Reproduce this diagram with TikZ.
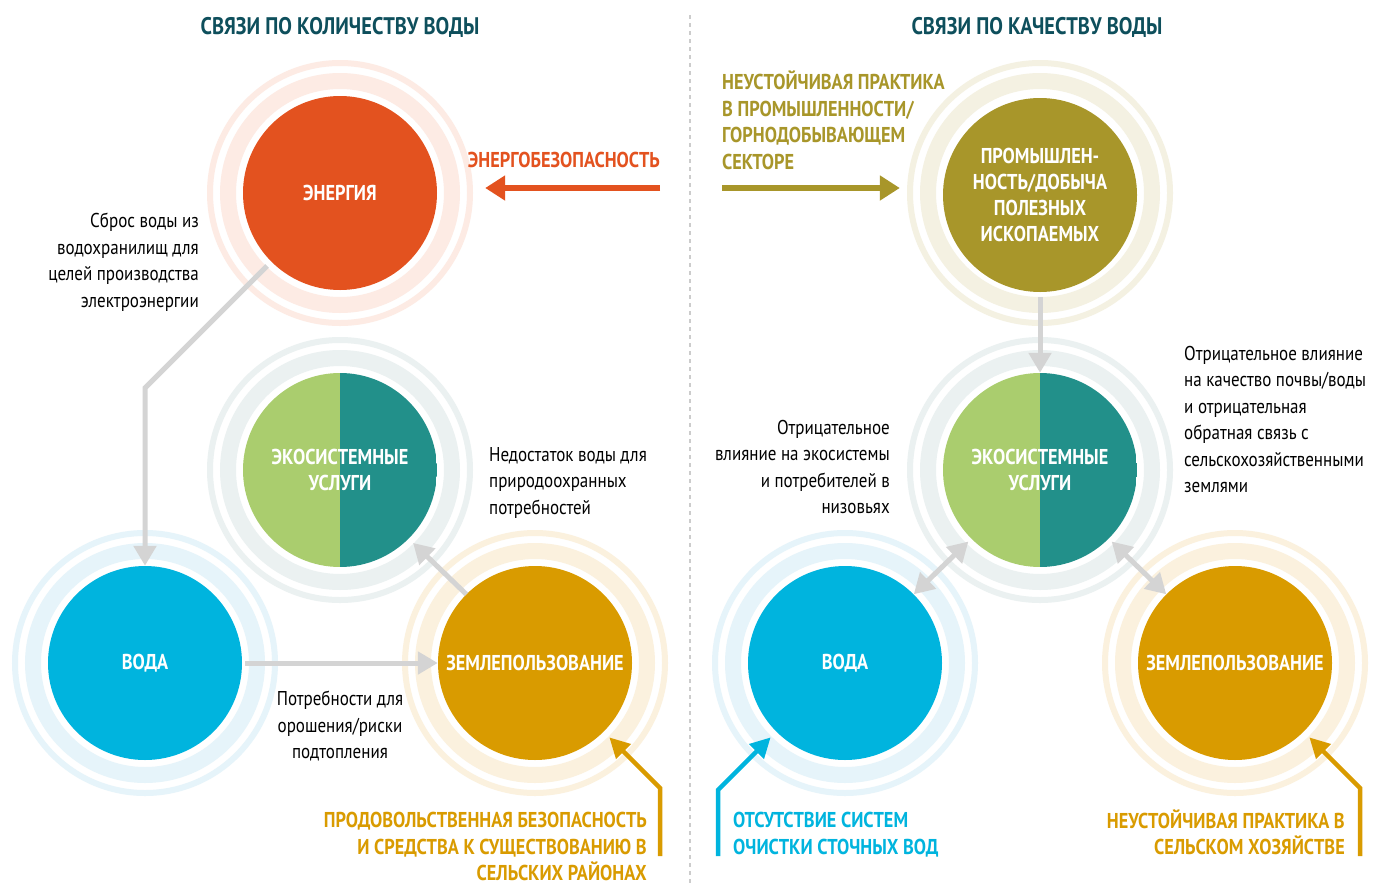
\documentclass[tikz,border=0pt]{standalone}
\usepackage{fontspec}
\setmainfont{PT Sans}[FakeStretch=0.85]
\usetikzlibrary{arrows.meta}
\definecolor{headteal}{HTML}{0E4F5C}
\definecolor{energy}{HTML}{E3521F}
\definecolor{mining}{HTML}{A8962A}
\definecolor{water}{HTML}{00B4DE}
\definecolor{land}{HTML}{D99B00}
\definecolor{ecogreen}{HTML}{AACD6E}
\definecolor{ecoteal}{HTML}{22908A}
\definecolor{ringorange}{HTML}{FDEBE4}
\definecolor{ringolive}{HTML}{F4F1E2}
\definecolor{ringblue}{HTML}{E6F4FA}
\definecolor{ringgold}{HTML}{FBF1DE}
\definecolor{ringeco}{HTML}{EBF1F1}
\definecolor{linkgray}{HTML}{D4D4D4}
\definecolor{dividergray}{HTML}{CCCCCC}

\begin{document}
\begin{tikzpicture}[x=1pt, y=-1pt,
    hub/.style={circle, minimum size=194pt, inner sep=0pt, text=white, align=center, font=\fontsize{21.5}{26}\selectfont\bfseries},
    eco/.style={path picture={
        \fill[ecogreen] (path picture bounding box.south west) rectangle (path picture bounding box.north);
        \fill[ecoteal] (path picture bounding box.north) rectangle (path picture bounding box.south east);}},
    note/.style={inner sep=0pt, font=\fontsize{20}{26.5}\selectfont},
    tag/.style={inner sep=0pt, font=\fontsize{21.5}{26.5}\selectfont\bfseries},
    title/.style={inner sep=0pt, text=headteal, font=\fontsize{24}{28}\selectfont\bfseries},
    link/.style={draw=linkgray, line width=5pt, -{Triangle[length=20pt,width=22pt]}},
    cue/.style={line width=4.5pt, -{Triangle[length=20pt,width=20pt]}}]
    \useasboundingbox (0,0) rectangle (1379,884);
    \fill[white] (0,0) rectangle (1379,884);

    \draw[dividergray, line width=1.5pt, dash pattern=on 4pt off 4pt] (690,15) -- (690,884);

    \foreach \cx/\cy/\rc in {340/193/ringorange, 145/663/ringblue, 535/663/ringgold, 340/470/ringeco,
        1040/193/ringolive, 845/663/ringblue, 1235/663/ringgold, 1040/470/ringeco}{
        \draw[\rc, line width=16pt] (\cx,\cy) circle (112);
        \draw[\rc, line width=6pt] (\cx,\cy) circle (130);
    }

    \node[title] (headL) at (340,27) {СВЯЗИ ПО КОЛИЧЕСТВУ ВОДЫ};
    \node[title] (headR) at (1037,27) {СВЯЗИ ПО КАЧЕСТВУ ВОДЫ};

    % quantity
    \node[hub, fill=energy] (en) at (340,193) {ЭНЕРГИЯ};
    \node[hub, eco] (ecoL) at (340,470) {ЭКОСИСТЕМНЫЕ\\УСЛУГИ};
    \node[hub, fill=water] (watL) at (145,663) {ВОДА};
    \node[hub, fill=land] (landL) at (535,663) {ЗЕМЛЕПОЛЬЗОВАНИЕ};

    % quality
    \node[hub, fill=mining] (ind) at (1040,195) {ПРОМЫШЛЕН-\\НОСТЬ/ДОБЫЧА\\ПОЛЕЗНЫХ\\ИСКОПАЕМЫХ};
    \node[hub, eco] (ecoR) at (1040,470) {ЭКОСИСТЕМНЫЕ\\УСЛУГИ};
    \node[hub, fill=water] (watR) at (845,663) {ВОДА};
    \node[hub, fill=land] (landR) at (1235,663) {ЗЕМЛЕПОЛЬЗОВАНИЕ};

    \coordinate (bendL) at (145,388);
    \draw[link, line join=miter, shorten <=6pt] (en.225) -- (bendL) -- (watL.north);
    \draw[link, shorten <=3pt] (watL.east) -- (landL.west);
    \draw[link, shorten >=6pt] (landL.135) -- (ecoL.-45);
    \draw[link, shorten <=5pt] (ind.south) -- (ecoR.north);
    \draw[link, {Triangle[length=20pt,width=22pt]}-{Triangle[length=20pt,width=22pt]}, shorten <=4pt] (ecoR.225) -- (watR.45);
    \draw[link, {Triangle[length=20pt,width=22pt]}-{Triangle[length=20pt,width=22pt]}, shorten <=4pt] (ecoR.-45) -- (landR.135);

    \node[note, anchor=north east, align=right] (dam) at (199,213) {Сброс воды из\\водохранилищ для\\целей производства\\электроэнергии};
    \node[note, anchor=north west, align=left] (envneed) at (489,447) {Недостаток воды для\\природоохранных\\потребностей};
    \node[note, anchor=north, align=center] (irrig) at (340,691) {Потребности для\\орошения/риски\\подтопления};
    \node[note, anchor=north east, align=right] (downstr) at (890,420) {Отрицательное\\влияние на экосистемы\\и потребителей в\\низовьях};
    \node[note, anchor=north west, align=left] (soil) at (1184,346) {Отрицательное влияние\\на качество почвы/воды\\и отрицательная\\обратная связь с\\сельскохозяйственными\\землями};

    \node[tag, text=energy, anchor=north east] (ensec) at (660,152) {ЭНЕРГОБЕЗОПАСНОСТЬ};
    \coordinate (enSrc) at (660,188);
    \draw[cue, energy, line width=6pt, -{Triangle[length=20pt,width=24pt]}, shorten >=48pt] (enSrc) -- (enSrc -| en.east);

    \node[tag, text=mining, anchor=north west, align=left] (indprac) at (722,71) {НЕУСТОЙЧИВАЯ ПРАКТИКА\\В ПРОМЫШЛЕННОСТИ/\\ГОРНОДОБЫВАЮЩЕМ\\СЕКТОРЕ};
    \coordinate (indSrc) at (722,188);
    \draw[cue, mining, line width=6pt, -{Triangle[length=20pt,width=24pt]}, shorten >=43pt] (indSrc) -- (indSrc -| ind.west);

    \node[tag, text=land, anchor=north east, align=right] (food) at (647,812) {ПРОДОВОЛЬСТВЕННАЯ БЕЗОПАСНОСТЬ\\И СРЕДСТВА К СУЩЕСТВОВАНИЮ В\\СЕЛЬСКИХ РАЙОНАХ};
    \coordinate (foodSrc) at (660,856);
    \draw[cue, land, shorten >=8pt] (foodSrc) -- ++(0,-68) -- (landL.-45);

    \node[tag, text=water, anchor=north west, align=left] (sewage) at (733,812) {ОТСУТСТВИЕ СИСТЕМ\\ОЧИСТКИ СТОЧНЫХ ВОД};
    \coordinate (sewSrc) at (718,856);
    \draw[cue, water, shorten >=8pt] (sewSrc) -- ++(0,-66) -- (watR.225);

    \node[tag, text=land, anchor=north east, align=right] (agri) at (1345,809) {НЕУСТОЙЧИВАЯ ПРАКТИКА В\\СЕЛЬСКОМ ХОЗЯЙСТВЕ};
    \coordinate (agriSrc) at (1360,856);
    \draw[cue, land, shorten >=8pt] (agriSrc) -- ++(0,-68) -- (landR.-45);
\end{tikzpicture}
\end{document}
